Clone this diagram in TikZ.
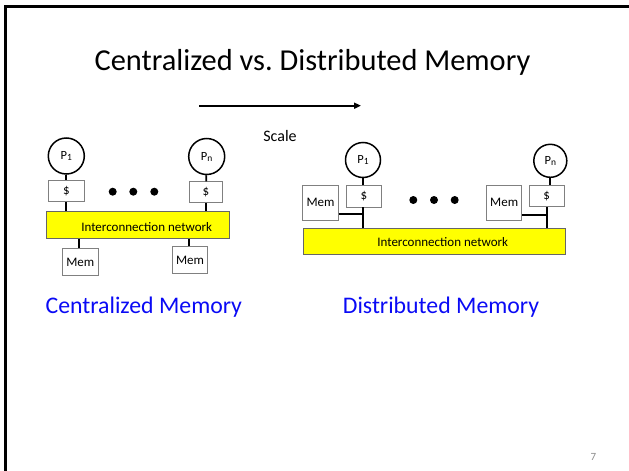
\documentclass[tikz,border=0pt]{standalone}
\usepackage{fontspec}
\setmainfont{Carlito}
\usetikzlibrary{arrows.meta,calc}

\definecolor{bandfill}{RGB}{255,255,0}
\definecolor{titleblue}{RGB}{10,10,245}
\definecolor{pagegray}{RGB}{140,140,140}

\tikzset{
  proc/.style={circle, draw, line width=1.5pt, inner sep=0pt, minimum size=#1},
  cachebox/.style={rectangle, draw=black!50, line width=0.8pt, inner sep=0pt, font=\fontsize{13}{15}\selectfont},
  membox/.style={rectangle, draw=black!50, line width=0.8pt, inner sep=0pt, font=\fontsize{13}{15}\selectfont},
  band/.style={rectangle, draw=black!60, fill=bandfill, line width=0.8pt, inner sep=0pt},
  bandtext/.style={inner sep=0pt, font=\fontsize{13}{15}\selectfont},
  wire/.style={line width=1.8pt},
  dot/.style={circle, fill=black, inner sep=0pt, minimum size=8pt},
  caption/.style={inner sep=0pt, anchor=base, text=titleblue, font=\fontsize{23.8}{27}\selectfont},
}
\newcommand{\procname}[1]{\fontsize{12.5}{14}\selectfont P\raisebox{-1pt}{\fontsize{9.5}{10}\selectfont #1}}

\begin{document}
\begin{tikzpicture}[x=1pt,y=-1pt]
\useasboundingbox (0,0) rectangle (629,471);

% slide frame
\draw[line width=3pt] (5.5,471) -- (5.5,6.5) -- (629,6.5);

% title
\node[anchor=base, inner sep=0pt, font=\fontsize{30.4}{34}\selectfont] (title) at (312.5,70) {Centralized vs.\ Distributed Memory};

% scaling arrow
\coordinate (arrS) at (199,105.7);
\coordinate (arrE) at (361,105.7);
\draw[line width=2pt, -{Triangle[length=7pt,width=6pt]}] (arrS) -- (arrE);
\node[anchor=base, inner sep=0pt, font=\fontsize{16}{18}\selectfont] (scale) at (280,141.5) {Scale};

% ---------------- centralized memory ----------------
\node[proc=36pt] (pL1) at (66.3,156) {\procname{1}};
\node[proc=36pt] (pLn) at (206.7,156.5) {\procname{n}};
\node[cachebox, minimum width=36pt, minimum height=21.7pt] (cL1) at (66.3,190.8) {\$};
\node[cachebox, minimum width=33.4pt, minimum height=21pt] (cLn) at (206,192.2) {\$};
\node[band, minimum width=182.3pt, minimum height=26.7pt] (netL) at (137.9,225) {};
\node[bandtext] (netLtext) at (146.7,226.7) {Interconnection network};
\node[membox, minimum width=36pt, minimum height=27.4pt] (mL1) at (80.3,262) {Mem};
\node[membox, minimum width=34.6pt, minimum height=26.6pt] (mLn) at (190,260) {Mem};

\draw[wire] (pL1) -- (cL1);
\draw[wire] (pLn) -- (cLn);
\draw[wire] (cL1.south) -- (cL1.south |- netL.north);
\draw[wire] (cLn.south) -- (cLn.south |- netL.north);
\draw[wire] (mL1.north -| 79.3,0) -- (79.3,0 |- netL.south);
\draw[wire] (mLn.north -| 189,0) -- (189,0 |- netL.south);

\node[dot] (dL1) at (112.7,191.7) {};
\node[dot] (dL2) at (133.3,191.7) {};
\node[dot] (dL3) at (154.3,191.7) {};

\node[caption] (capL) at (143.8,313.3) {Centralized Memory};

% ---------------- distributed memory ----------------
\node[proc=35pt] (pR1) at (363,160) {\procname{1}};
\node[proc=33pt] (pRn) at (550.3,160.8) {\procname{n}};
\node[cachebox, minimum width=35.7pt, minimum height=22pt] (cR1) at (363.8,196) {\$};
\node[cachebox, minimum width=34.7pt, minimum height=21.7pt] (cRn) at (546.7,195.8) {\$};
\node[membox, minimum width=35.6pt, minimum height=35pt] (mR1) at (320.5,202.5) {Mem};
\node[membox, minimum width=35pt, minimum height=35pt] (mRn) at (504.2,202.5) {Mem};
\node[band, minimum width=261.7pt, minimum height=25.7pt] (netR) at (434.2,241.2) {};
\node[bandtext] (netRtext) at (442.7,242.3) {Interconnection network};

\coordinate (jR1) at (363,214.3);
\coordinate (jRn) at (546.7,215);

\draw[wire] (pR1) -- (cR1.north -| pR1);
\draw[wire] (pRn.south) -- (pRn.south |- cRn.north);
\draw[wire] (cR1.south -| jR1) -- (jR1 |- netR.north);
\draw[wire] (cRn.south -| jRn) -- (jRn |- netR.north);
\draw[wire] (mR1.east |- jR1) -- (jR1);
\draw[wire] (mRn.east |- jRn) -- (jRn);

\node[dot] (dR1) at (413.3,200) {};
\node[dot] (dR2) at (434,200) {};
\node[dot] (dR3) at (454.7,200) {};

\node[caption] (capR) at (441,313.3) {Distributed Memory};

% page number
\node[inner sep=0pt, text=pagegray, font=\fontsize{11}{13}\selectfont] (pgnum) at (593.3,456.7) {7};
\end{tikzpicture}
\end{document}
